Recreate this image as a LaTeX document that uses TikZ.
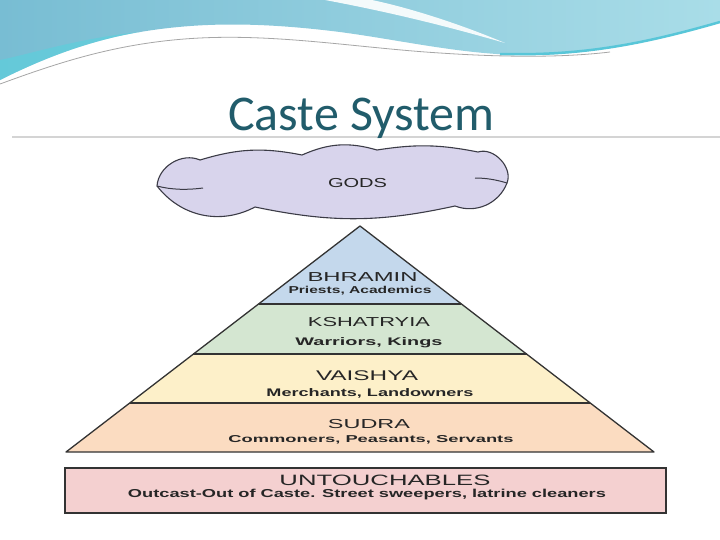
\documentclass[tikz,border=0pt]{standalone}
\usepackage{fontspec}
\usepackage{graphicx}
\setmainfont{Liberation Sans}
\newfontfamily\titlefont{Carlito}
\usetikzlibrary{calc}
\definecolor{bannerL}{HTML}{78BDD3}
\definecolor{bannerR}{HTML}{A9DDE8}
\definecolor{cyanA}{HTML}{55D3DE}
\definecolor{cyanB}{HTML}{58C6D8}
\definecolor{titlecol}{HTML}{215C6B}
\definecolor{cloudfill}{HTML}{D8D4EC}
\definecolor{cloudline}{HTML}{3B3B46}
\definecolor{bandA}{HTML}{C4D8EC}
\definecolor{bandB}{HTML}{D4E6D1}
\definecolor{bandC}{HTML}{FDF0C9}
\definecolor{bandD}{HTML}{FBDCC1}
\definecolor{untfill}{HTML}{F4D0D0}
\definecolor{txt}{HTML}{262626}
\definecolor{pyrline}{HTML}{333333}
\definecolor{sepcol}{HTML}{D4D4D4}
\newcommand{\fitw}[3]{\resizebox{#1pt}{\height}{\fontsize{#2}{#2}\selectfont #3}}
\begin{document}
\begin{tikzpicture}[x=1pt,y=-1pt,
  lbl/.style={anchor=base, inner sep=0pt, text=txt},
  pyr/.style={draw=pyrline, line width=1.3pt, line join=round}]
\useasboundingbox (0,0) rectangle (720,539);
\fill[white] (0,0) rectangle (720,539);
% banner
\shade[left color=bannerL, right color=bannerR]
  (0,0) -- (720,0) -- (720,22)
  .. controls (640,45) and (580,56) .. (520,55)
  .. controls (460,54) and (400,40) .. (340,32)
  .. controls (260,22) and (200,22) .. (140,32)
  .. controls (80,42) and (30,65) .. (0,80) -- cycle;
\fill[cyanA, opacity=0.55] (0,80) .. controls (30,65) and (80,42) .. (140,32)
  .. controls (80,38) and (30,54) .. (0,60) -- cycle;
\fill[white, opacity=0.9] (325,0) .. controls (400,14) and (460,30) .. (505,43)
  .. controls (460,24) and (410,8) .. (372,0) -- cycle;
\draw[cyanB, line width=2.5pt] (500,54) .. controls (580,56) and (640,45) .. (720,22);
\draw[gray!70, line width=0.8pt] (0,84) .. controls (60,62) and (120,42) .. (200,38)
  .. controls (280,34) and (360,48) .. (440,53) .. controls (500,57) and (560,58) .. (610,52);
\draw[sepcol, line width=1.5pt] (12,137) -- (720,137);
% title
\node[anchor=base, inner sep=0pt, text=titlecol, font=\titlefont\fontsize{50}{50}\selectfont] (title) at (361.5,130) {Caste System};
% cloud
\coordinate (cL) at (157,186);
\coordinate (c1) at (200,160);
\coordinate (c2) at (302,155);
\coordinate (c3) at (377,150);
\coordinate (c4) at (478,152);
\coordinate (cR) at (507,183);
\coordinate (c5) at (455,206);
\coordinate (c6) at (255,207);
\filldraw[fill=cloudfill, draw=cloudline, line width=1.1pt, line join=round]
  (cL) to[bend left=55] (c1) to[bend left=14] (c2) to[bend left=20] (c3)
  to[bend left=10] (c4) to[bend left=65] (cR) to[bend left=45] (c5)
  to[bend left=12] (c6) to[bend left=40] (cL) -- cycle;
\draw[cloudline, line width=1pt] (cL) .. controls (172,190) and (188,190) .. (203,188);
\draw[cloudline, line width=1pt] (cR) .. controls (497,180) and (487,178) .. (475,178);
\node[lbl] (gods) at (357.5,187) {\fitw{59}{13}{GODS}};
% pyramid
\coordinate (apex) at (360,226);
\coordinate (bl) at (66,452);
\coordinate (br) at (654,452);
\coordinate (l1) at ($(apex)!0.3451!(bl)$);
\coordinate (r1) at ($(apex)!0.3451!(br)$);
\coordinate (l2) at ($(apex)!0.5664!(bl)$);
\coordinate (r2) at ($(apex)!0.5664!(br)$);
\coordinate (l3) at ($(apex)!0.7832!(bl)$);
\coordinate (r3) at ($(apex)!0.7832!(br)$);
\fill[bandA] (apex) -- (l1) -- (r1) -- cycle;
\fill[bandB] (l1) -- (l2) -- (r2) -- (r1) -- cycle;
\fill[bandC] (l2) -- (l3) -- (r3) -- (r2) -- cycle;
\fill[bandD] (l3) -- (bl) -- (br) -- (r3) -- cycle;
\draw[pyr] (l1) -- (r1);
\draw[pyr] (l2) -- (r2);
\draw[pyr] (l3) -- (r3);
\draw[pyr] (apex) -- (bl) -- (br) -- cycle;
\node[lbl] (bhr) at (362.5,281) {\fitw{110}{13}{BHRAMIN}};
\node[lbl] (bhrs) at (360,293) {\fitw{143}{10}{\bfseries Priests, Academics}};
\node[lbl] (ksh) at (369,326) {\fitw{122}{13}{KSHATRYIA}};
\node[lbl] (kshs) at (369,345) {\fitw{147}{11}{\bfseries Warriors, Kings}};
\node[lbl] (vai) at (367,380) {\fitw{102}{14}{VAISHYA}};
\node[lbl] (vais) at (370,396) {\fitw{207}{11}{\bfseries Merchants, Landowners}};
\node[lbl] (sud) at (369,428) {\fitw{82}{13}{SUDRA}};
\node[lbl] (suds) at (371,442) {\fitw{285}{10}{\bfseries Commoners, Peasants, Servants}};
% untouchables
\node[draw=pyrline, line width=1.8pt, fill=untfill, minimum width=601pt, minimum height=45pt, inner sep=0pt] (untbox) at (365.5,490.5) {};
\node[lbl] (unt) at (385,485) {\fitw{211}{15}{UNTOUCHABLES}};
\node[lbl] (unts) at (367,497) {\fitw{478}{11.5}{\bfseries Outcast-Out of Caste. Street sweepers, latrine cleaners}};
\end{tikzpicture}
\end{document}
